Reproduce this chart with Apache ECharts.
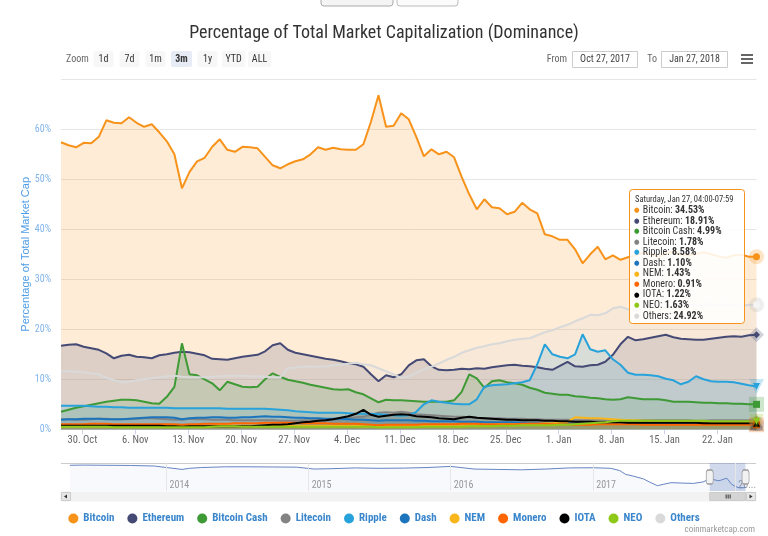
<!DOCTYPE html>
<html><head><meta charset="utf-8">
<script src="https://cdn.jsdelivr.net/npm/echarts@6.0.0/dist/echarts.min.js"></script>
<style>html,body{margin:0;padding:0;background:#fff}#c{width:768px;height:536px}</style>
</head><body><div id="c"></div>
<script>
// ---------- DATA ----------
const startDate = '2017-10-27T04:00:00Z';   // first sample, one sample per day
const seriesNames = ['Bitcoin','Ethereum','Bitcoin Cash','Litecoin','Ripple','Dash','NEM','Monero','IOTA','NEO','Others'];
const bitcoin = [57.4,56.8,56.4,57.3,57.2,58.5,61.8,61.3,61.2,62.4,
 61.3,60.5,61.0,59.4,57.6,55.0,48.2,51.5,53.6,54.3,
 56.5,58.0,55.9,55.5,56.5,56.4,56.2,54.5,52.8,52.2,
 53.0,53.6,54.0,55.0,56.4,55.9,56.3,56.0,55.9,55.9,
 57.0,61.5,66.8,60.5,60.7,63.2,62.0,58.5,54.6,56.0,
 55.0,55.5,54.4,50.5,47.0,44.0,46.0,44.4,44.2,43.0,
 43.5,45.3,44.0,43.2,39.0,38.6,37.9,37.9,36.0,33.2,
 35.0,36.5,34.0,34.8,33.9,34.4,34.8,35.3,35.0,34.5,
 35.2,35.6,35.0,34.7,35.1,35.4,35.0,34.6,34.3,34.8,
 34.9,34.5,34.53];
const ethereum = [16.7,16.9,17.0,16.5,16.2,15.9,15.2,14.2,14.7,14.9,
 14.5,14.4,14.2,14.8,15.0,15.3,15.5,15.4,15.1,14.8,
 14.1,14.0,13.9,14.2,14.5,14.7,14.9,15.6,16.8,17.2,
 15.9,15.3,15.0,14.7,14.4,14.1,13.9,13.6,13.2,13.0,
 12.5,11.0,9.6,10.8,10.4,11.0,12.8,13.8,14.0,12.6,
 11.9,11.8,11.9,12.1,12.0,12.2,12.1,12.4,12.6,12.8,
 12.9,12.7,12.6,12.4,12.1,11.9,12.7,13.5,12.6,12.5,
 12.8,12.9,13.5,14.9,17.0,18.5,17.8,18.0,18.3,18.6,
 18.9,18.4,18.1,18.0,17.9,17.9,18.1,18.3,18.5,18.6,
 18.5,18.8,18.91];
const bitcoinCash = [3.5,3.9,4.3,4.6,4.9,5.2,5.5,5.7,5.9,5.9,
 5.8,5.5,5.2,5.1,6.5,8.5,17.2,11.0,10.8,10.0,
 9.2,7.8,9.5,9.0,8.5,8.4,8.5,10.0,11.2,10.5,
 9.9,9.6,9.3,8.9,8.6,8.3,8.0,7.9,8.0,7.4,
 7.0,6.2,5.4,5.9,5.8,5.8,5.7,5.6,5.5,5.5,
 5.5,5.5,5.8,7.5,11.0,10.2,8.3,9.6,9.8,9.4,
 9.2,8.9,8.3,7.9,7.3,7.1,6.9,6.9,6.6,6.5,
 6.3,6.2,6.0,5.9,6.0,6.4,6.2,6.0,6.0,6.0,
 5.8,5.5,5.5,5.5,5.4,5.3,5.3,5.2,5.2,5.1,
 5.1,5.0,4.99];
const litecoin = [2.0,2.0,1.9,1.9,2.0,2.1,2.1,2.0,2.0,2.0,
 2.1,2.2,2.2,2.1,2.0,1.9,1.9,2.1,2.0,2.0,
 1.9,1.9,1.9,1.8,1.8,1.8,1.8,1.8,1.8,1.7,
 1.7,1.7,1.8,1.8,1.8,1.9,1.9,2.0,2.2,2.4,
 2.5,2.9,3.3,3.4,3.3,3.5,3.3,3.0,2.9,2.8,
 2.7,2.6,2.5,2.5,2.4,2.3,2.2,2.2,2.2,2.1,
 2.1,2.1,2.0,2.0,1.9,1.9,1.9,1.9,1.8,1.8,
 1.8,1.8,1.8,1.8,1.8,1.7,1.7,1.8,1.8,1.8,
 1.8,1.8,1.8,1.8,1.7,1.7,1.8,1.8,1.8,1.8,
 1.8,1.8,1.78];
const ripple = [4.7,4.7,4.7,4.7,4.6,4.5,4.5,4.4,4.4,4.3,
 4.3,4.3,4.3,4.3,4.3,4.2,4.2,4.2,4.2,4.2,
 4.2,4.2,4.1,4.1,4.1,4.1,4.1,4.1,4.0,3.9,
 3.8,3.6,3.5,3.4,3.3,3.3,3.3,3.3,3.2,3.1,
 3.1,3.1,3.0,2.9,2.8,2.7,2.8,3.5,5.0,5.8,
 5.5,5.3,5.1,5.0,5.0,6.0,8.5,8.8,8.9,9.0,
 9.2,9.4,9.8,13.0,17.0,15.0,14.5,14.2,15.0,19.0,
 16.0,15.5,15.8,14.0,12.9,11.3,10.9,10.9,10.8,10.6,
 10.1,9.8,9.0,9.5,10.6,10.0,9.6,9.5,9.5,9.4,
 9.1,8.8,8.58];
const dash = [1.9,2.0,2.0,2.1,2.1,2.1,2.0,2.0,2.0,2.1,
 2.2,2.3,2.4,2.4,2.4,2.3,2.0,2.2,2.3,2.3,
 2.4,2.4,2.3,2.3,2.4,2.4,2.5,2.6,2.5,2.5,
 2.4,2.3,2.3,2.2,2.2,2.1,2.1,2.1,2.0,1.9,
 1.9,1.8,1.7,1.8,1.8,1.8,1.8,1.7,1.7,1.6,
 1.6,1.6,1.6,1.5,1.5,1.5,1.4,1.4,1.4,1.4,
 1.4,1.3,1.3,1.3,1.2,1.2,1.2,1.2,1.1,1.1,
 1.1,1.2,1.2,1.1,1.1,1.1,1.1,1.1,1.1,1.1,
 1.1,1.1,1.1,1.1,1.1,1.1,1.1,1.1,1.1,1.1,
 1.1,1.1,1.10];
const nem = [0.6,0.6,0.6,0.6,0.6,0.6,0.6,0.6,0.6,0.6,
 0.6,0.6,0.6,0.6,0.6,0.6,0.6,0.6,0.6,0.6,
 0.7,0.8,0.8,0.7,0.7,0.7,0.7,0.7,0.7,0.7,
 0.7,0.7,0.7,0.7,0.7,0.7,0.7,0.7,0.7,0.7,
 0.6,0.6,0.6,0.6,0.7,0.7,0.7,0.7,0.7,0.8,
 0.8,0.8,0.9,0.9,0.9,0.9,0.9,0.9,1.0,1.0,
 1.0,1.0,1.1,1.1,1.2,1.2,1.3,1.5,2.4,2.3,
 2.2,2.2,2.1,2.0,1.9,1.8,1.8,1.7,1.7,1.6,
 1.6,1.6,1.5,1.5,1.5,1.5,1.5,1.4,1.4,1.4,
 1.4,1.4,1.43];
const monero = [1.0,1.0,1.0,1.0,1.1,1.1,1.1,1.0,1.0,1.0,
 1.0,1.0,1.0,1.0,1.0,1.0,0.9,1.0,1.0,1.1,
 1.1,1.1,1.1,1.2,1.2,1.2,1.2,1.3,1.3,1.3,
 1.3,1.3,1.2,1.2,1.2,1.2,1.1,1.1,1.1,1.1,
 1.0,0.9,0.8,0.9,0.9,0.9,0.9,0.9,1.0,1.0,
 1.0,1.0,1.0,1.1,1.1,1.1,1.0,1.0,1.0,1.0,
 1.0,1.1,1.1,1.1,1.1,1.0,1.0,1.0,0.9,0.9,
 0.9,1.0,1.0,1.0,1.0,1.0,1.0,0.9,0.9,0.9,
 0.9,0.9,0.9,0.9,0.9,0.9,0.9,0.9,0.9,0.9,
 0.9,0.9,0.91];
const iota = [0.7,0.7,0.7,0.7,0.7,0.7,0.7,0.7,0.7,0.7,
 0.7,0.7,0.7,0.7,0.6,0.6,0.5,0.6,0.6,0.6,
 0.6,0.6,0.6,0.6,0.6,0.6,0.7,0.8,0.9,0.9,
 1.0,1.2,1.4,1.5,1.7,1.8,2.0,2.3,2.6,3.1,
 3.9,2.9,2.5,2.7,2.9,3.0,2.9,2.6,2.5,2.4,
 2.2,2.1,2.0,2.3,2.5,2.3,2.2,2.1,2.0,1.9,
 1.9,1.8,1.8,1.8,1.7,1.7,1.6,1.6,1.5,1.5,
 1.5,1.4,1.4,1.4,1.4,1.3,1.3,1.3,1.3,1.3,
 1.3,1.3,1.3,1.3,1.3,1.2,1.2,1.2,1.2,1.2,
 1.2,1.2,1.22];
const neo = [0.5,0.5,0.5,0.5,0.5,0.5,0.5,0.4,0.4,0.4,
 0.4,0.4,0.4,0.4,0.4,0.4,0.4,0.4,0.4,0.4,
 0.5,0.6,0.6,0.6,0.5,0.5,0.5,0.5,0.5,0.5,
 0.5,0.5,0.5,0.5,0.5,0.5,0.5,0.5,0.5,0.5,
 0.5,0.5,0.4,0.4,0.4,0.4,0.4,0.4,0.5,0.5,
 0.5,0.5,0.5,0.5,0.6,0.6,0.6,0.6,0.7,0.7,
 0.7,0.8,0.8,0.8,0.8,0.8,0.9,0.9,1.0,1.1,
 1.2,1.3,1.4,1.6,1.7,1.7,1.7,1.7,1.7,1.7,
 1.7,1.7,1.7,1.7,1.7,1.7,1.6,1.6,1.6,1.6,
 1.6,1.6,1.63];
const others = [11.7,11.6,11.5,11.4,11.2,11.0,10.3,9.8,9.4,9.5,
 9.8,10.0,10.2,10.4,10.6,10.7,10.5,10.4,10.4,10.4,
 10.5,10.6,10.7,10.7,10.7,10.6,10.6,10.5,10.4,10.4,
 12.2,12.3,12.5,12.5,12.5,12.6,12.8,12.9,13.1,13.3,
 13.0,12.8,12.2,11.6,11.0,10.3,10.6,11.3,12.0,12.5,
 13.2,13.9,14.5,15.3,15.8,16.3,16.6,17.0,17.2,17.6,
 17.9,18.1,18.2,18.8,19.4,19.8,20.4,20.9,21.6,22.2,
 22.9,22.8,23.2,24.2,24.5,24.0,23.7,24.2,24.6,24.4,
 24.8,24.5,24.9,25.0,24.7,24.9,25.1,24.8,25.0,24.9,
 24.7,24.9,24.92];
const seriesValues = [bitcoin, ethereum, bitcoinCash, litecoin, ripple, dash, nem, monero, iota, neo, others];

const xTickDates = ['2017-10-30','2017-11-06','2017-11-13','2017-11-20','2017-11-27','2017-12-04',
 '2017-12-11','2017-12-18','2017-12-25','2018-01-01','2018-01-08','2018-01-15','2018-01-22'];
const yTicks = [0,10,20,30,40,50,60];
const monthNames = ['Jan','Feb','Mar','Apr','May','Jun','Jul','Aug','Sep','Oct','Nov','Dec'];

// navigator: long-term Bitcoin dominance history
const navDates = ['2013-04-28','2013-06-01','2013-08-01','2013-10-01','2013-12-01','2014-01-01','2014-02-10',
 '2014-03-01','2014-04-01','2014-06-01','2014-08-01','2014-10-01','2014-12-01','2015-01-15','2015-03-01',
 '2015-05-01','2015-07-01','2015-09-01','2015-11-01','2016-01-01','2016-03-01','2016-05-01','2016-07-01',
 '2016-09-01','2016-11-01','2017-01-01','2017-02-15','2017-03-10','2017-03-25','2017-04-15','2017-05-10',
 '2017-05-25','2017-06-15','2017-07-01','2017-07-20','2017-08-15','2017-09-15','2017-10-10','2017-10-27',
 '2017-11-20','2017-12-10','2017-12-22','2018-01-01','2018-01-12','2018-01-27'];
const navValues = [94,94.5,94,93.5,92,88,83,86,88,90,90,89.5,89,84,85,87,86,86.5,88,91,84,83,82,84,87,
 87.5,86,80,70,65,58,50,40,44,48,47,46,50,58,53,60,44,38,34,35];
const navRange = ['2013-04-05','2018-02-23'];
const navYearTicks = ['2014-01-01','2015-01-01','2016-01-01','2017-01-01','2018-01-01'];
const navYearLabels = ['2014','2015','2016','2017','20...'];

const tooltipHeader = 'Saturday, Jan 27, 04:00-07:59';

// ---------- STYLE ----------
const seriesColors = ['#f7931a','#454a75','#3d9a35','#838383','#27a2db','#1c75bc','#f8b51c','#ff6600','#000000','#8ec919','#d9d9d9'];
const markerSymbols = ['circle','diamond','rect','triangle','triangle','circle','diamond','rect','triangle','triangle','circle'];
const markerRotate = [0,0,0,0,180,0,0,0,0,180,0];
const NARROW = "'Liberation Sans Narrow','Roboto Condensed','DejaVu Sans Condensed','Liberation Sans',Arial,sans-serif";
const TOPZ = 100;

// ---------- BUILD ----------
const DAY = 86400000;
const t0 = Date.parse(startDate);
const times = bitcoin.map((_, i) => t0 + i * DAY);
const tEnd = times[times.length - 1];
const xTicks = xTickDates.map(d => Date.parse(d + 'T00:00:00Z'));
const navTimes = navDates.map(d => Date.parse(d + 'T00:00:00Z'));
const navYears = navYearTicks.map(d => Date.parse(d + 'T00:00:00Z'));

function hexA(hex, a) {
  const n = parseInt(hex.slice(1), 16);
  return 'rgba(' + (n >> 16) + ',' + ((n >> 8) & 255) + ',' + (n & 255) + ',' + a + ')';
}
function fmtBox(t) { const d = new Date(t); return monthNames[d.getUTCMonth()] + ' ' + d.getUTCDate() + ', ' + d.getUTCFullYear(); }

const mainSeries = seriesNames.map((name, i) => {
  const vals = seriesValues[i];
  const last = vals[vals.length - 1];
  const light = seriesColors[i] === '#d9d9d9';
  return {
    name, type: 'line', xAxisIndex: 0, yAxisIndex: 0,
    data: times.map((t, k) => [t, vals[k]]),
    symbol: 'none', smooth: false,
    lineStyle: { width: 2, color: seriesColors[i] },
    itemStyle: { color: seriesColors[i] },
    areaStyle: { color: hexA(seriesColors[i], 0.25) },
    emphasis: { disabled: true },
    markPoint: {
      silent: true, animation: false, label: { show: false },
      data: [
        { coord: [tEnd, last], symbol: markerSymbols[i], symbolRotate: markerRotate[i], symbolSize: 15,
          itemStyle: { color: hexA(light ? '#bbbbbb' : seriesColors[i], 0.25) } },
        { coord: [tEnd, last], symbol: markerSymbols[i], symbolRotate: markerRotate[i], symbolSize: 7,
          itemStyle: { color: light ? '#f4f4f4' : seriesColors[i] } }
      ]
    }
  };
});

const navSeries = {
  name: 'Navigator', type: 'line', xAxisIndex: 1, yAxisIndex: 1,
  data: navTimes.map((t, k) => [t, navValues[k]]),
  symbol: 'none', lineStyle: { width: 1, color: '#6685c2' },
  areaStyle: { color: 'rgba(102,133,194,0.07)' },
  emphasis: { disabled: true }, silent: true,
  markLine: { silent: true, symbol: 'none', label: { show: false }, animation: false,
    lineStyle: { color: '#e6e6e6', type: 'solid', width: 1 },
    data: navYears.map(t => ({ xAxis: t })) },
  markArea: { silent: true, itemStyle: { color: 'rgba(102,133,194,0.3)' },
    data: [[{ xAxis: t0 }, { xAxis: tEnd }]] },
  markPoint: { silent: true, label: { show: false },
    data: [
      { coord: [t0, 63], symbol: 'roundRect', symbolSize: [7, 14], itemStyle: { color: '#f2f2f2', borderColor: '#999', borderWidth: 1 } },
      { coord: [tEnd, 63], symbol: 'roundRect', symbolSize: [7, 14], itemStyle: { color: '#f2f2f2', borderColor: '#999', borderWidth: 1 } }
    ] }
};

// toolbar graphics
const g = [];
g.push({ type: 'rect', shape: { x: 321, y: -6, width: 72, height: 12, r: 3 }, style: { fill: '#f4f4f4', stroke: '#aaa' } });
g.push({ type: 'rect', shape: { x: 397, y: -6, width: 61, height: 12, r: 3 }, style: { fill: '#fbfbfb', stroke: '#bbb' } });
g.push({ type: 'text', x: 66, y: 59, style: { text: 'Zoom', fill: '#666', fontSize: 10, fontFamily: NARROW, verticalAlign: 'middle' } });
const btnLabels = ['1d','7d','1m','3m','1y','YTD','ALL'];
const btnCenters = [103.5,129.5,155.5,181.5,207.5,233.5,259.5];
const btnWidths = [20,20,20,21,20,23,23];
btnLabels.forEach((b, i) => {
  const sel = b === '3m';
  g.push({ type: 'rect', shape: { x: btnCenters[i] - btnWidths[i] / 2, y: 51, width: btnWidths[i], height: 16, r: 2 },
    style: { fill: sel ? '#e6ebf5' : '#f7f7f7' } });
  g.push({ type: 'text', x: btnCenters[i], y: 59, style: { text: b, fill: '#333', fontSize: 10, fontWeight: sel ? 'bold' : 'normal',
    fontFamily: NARROW, align: 'center', verticalAlign: 'middle' } });
});
g.push({ type: 'text', x: 567, y: 59, style: { text: 'From', fill: '#666', fontSize: 10, fontFamily: NARROW, align: 'right', verticalAlign: 'middle' } });
g.push({ type: 'rect', shape: { x: 572.5, y: 51.5, width: 65, height: 16 }, style: { fill: '#fff', stroke: '#ccc' } });
g.push({ type: 'text', x: 605, y: 59.5, style: { text: fmtBox(t0), fill: '#444', fontSize: 10, fontFamily: NARROW, align: 'center', verticalAlign: 'middle' } });
g.push({ type: 'text', x: 657, y: 59, style: { text: 'To', fill: '#666', fontSize: 10, fontFamily: NARROW, align: 'right', verticalAlign: 'middle' } });
g.push({ type: 'rect', shape: { x: 661.5, y: 51.5, width: 66, height: 16 }, style: { fill: '#fff', stroke: '#ccc' } });
g.push({ type: 'text', x: 694.5, y: 59.5, style: { text: fmtBox(tEnd), fill: '#444', fontSize: 10, fontFamily: NARROW, align: 'center', verticalAlign: 'middle' } });
[55, 59, 63].forEach(y => g.push({ type: 'line', shape: { x1: 741, y1: y, x2: 753, y2: y }, style: { stroke: '#666', lineWidth: 2 } }));
g.push({ type: 'line', shape: { x1: 61, y1: 463.5, x2: 756, y2: 463.5 }, style: { stroke: '#cccccc', lineWidth: 1 } });
g.push({ type: 'text', x: 755, y: 530, style: { text: 'coinmarketcap.com', fill: '#999', fontSize: 9, fontFamily: NARROW, align: 'right', verticalAlign: 'middle' } });

// tooltip box (drawn above the series)
const TX = 629, TY = 189;
g.push({ type: 'rect', z: TOPZ, shape: { x: TX + 0.5, y: TY + 0.5, width: 115, height: 134, r: 3 },
  style: { fill: 'rgba(255,255,255,0.88)', stroke: '#f7931a', lineWidth: 1 } });
g.push({ type: 'text', z: TOPZ + 1, x: TX + 6, y: TY + 11, style: { text: tooltipHeader, fill: '#333', fontSize: 8.5, fontFamily: NARROW, verticalAlign: 'middle' } });
seriesNames.forEach((n, i) => {
  const vals = seriesValues[i];
  g.push({ type: 'text', z: TOPZ + 1, x: TX + 5, y: TY + 21.5 + i * 10.55, style: {
    text: '{d|●} {n|' + n + ': }{b|' + vals[vals.length - 1].toFixed(2) + '%}',
    verticalAlign: 'middle',
    rich: {
      d: { fill: seriesColors[i], fontSize: 7, fontFamily: NARROW },
      n: { fill: '#333', fontSize: 10, fontFamily: NARROW },
      b: { fill: '#333', fontSize: 10, fontWeight: 'bold', fontFamily: NARROW }
    } } });
});

const option = {
  animation: false,
  backgroundColor: '#fff',
  title: { text: 'Percentage of Total Market Capitalization (Dominance)', left: 'center', top: 19,
    textStyle: { fontSize: 18, fontWeight: 'normal', color: '#333', fontFamily: NARROW } },
  legend: { data: seriesNames, top: 508, left: 'center', icon: 'circle', itemWidth: 10, itemHeight: 10, itemGap: 13,
    textStyle: { color: '#3a86cc', fontSize: 11, fontWeight: 'bold', fontFamily: NARROW } },
  grid: [
    { left: 61, right: 11.5, top: 79.3, bottom: 106.7 },
    { left: 61, right: 12, top: 463, height: 28 }
  ],
  xAxis: [
    { type: 'value', gridIndex: 0, min: t0, max: tEnd,
      axisLine: { show: true, lineStyle: { color: '#ccd6eb' } },
      axisTick: { show: true, length: 5, customValues: xTicks, lineStyle: { color: '#ccd6eb' } },
      axisLabel: { customValues: xTicks, color: '#666', fontSize: 10.5, fontFamily: NARROW, margin: 6,
        formatter: v => { const d = new Date(v); return d.getUTCDate() + '. ' + monthNames[d.getUTCMonth()]; } },
      splitLine: { show: false } },
    { type: 'value', gridIndex: 1, min: Date.parse(navRange[0] + 'T00:00:00Z'), max: Date.parse(navRange[1] + 'T00:00:00Z'),
      axisLine: { show: false }, axisTick: { show: false }, splitLine: { show: false },
      axisLabel: { customValues: navYears, inside: true, align: 'left', margin: 1, padding: [0, 0, 0, 3],
        color: '#999', fontSize: 10, fontFamily: NARROW, showMaxLabel: true, hideOverlap: false,
        formatter: v => navYearLabels[navYears.indexOf(v)] || '' } }
  ],
  yAxis: [
    { type: 'value', gridIndex: 0, min: 0, max: 70, interval: 10,
      name: 'Percentage of Total Market Cap', nameLocation: 'middle', nameGap: 30, nameMoveOverlap: false,
      nameTextStyle: { color: '#4f9de6', fontSize: 11, fontFamily: "'Liberation Sans',Arial,sans-serif" },
      axisLine: { show: false }, axisTick: { show: false },
      axisLabel: { color: '#82b5ea', fontSize: 10, fontFamily: NARROW, margin: 10,
        formatter: v => yTicks.indexOf(v) >= 0 ? v + '%' : '' },
      splitLine: { lineStyle: { color: '#e6e6e6' } } },
    { type: 'value', gridIndex: 1, min: 26, max: 100, show: false }
  ],
  series: mainSeries.concat([navSeries]),
  graphic: g
};

const chart = echarts.init(document.getElementById('c'));
chart.setOption(option);

// scrollbar under the navigator, thumb placed from the navigator axis
const px0 = chart.convertToPixel({ xAxisIndex: 1 }, t0);
const px1 = Math.min(chart.convertToPixel({ xAxisIndex: 1 }, tEnd), 746);
const sb = [
  { type: 'rect', shape: { x: 61, y: 492, width: 695, height: 9 }, style: { fill: '#f2f2f2', stroke: '#f2f2f2' } },
  { type: 'rect', shape: { x: 61.5, y: 492.5, width: 9, height: 8 }, style: { fill: '#e6e6e6', stroke: '#cccccc' } },
  { type: 'polygon', shape: { points: [[64, 496.5], [67, 494.5], [67, 498.5]] }, style: { fill: '#333' } },
  { type: 'rect', shape: { x: 746.5, y: 492.5, width: 9, height: 8 }, style: { fill: '#e6e6e6', stroke: '#cccccc' } },
  { type: 'polygon', shape: { points: [[752.5, 496.5], [749.5, 494.5], [749.5, 498.5]] }, style: { fill: '#333' } },
  { type: 'rect', shape: { x: px0, y: 492.5, width: px1 - px0, height: 8 }, style: { fill: '#d4d4d4', stroke: '#cccccc' } }
];
const mid = (px0 + px1) / 2;
[-2, 0, 2].forEach(dx => sb.push({ type: 'line', shape: { x1: mid + dx + 0.5, y1: 494.5, x2: mid + dx + 0.5, y2: 498.5 }, style: { stroke: '#333', lineWidth: 1 } }));
chart.setOption({ graphic: g.concat(sb) });
</script></body></html>
